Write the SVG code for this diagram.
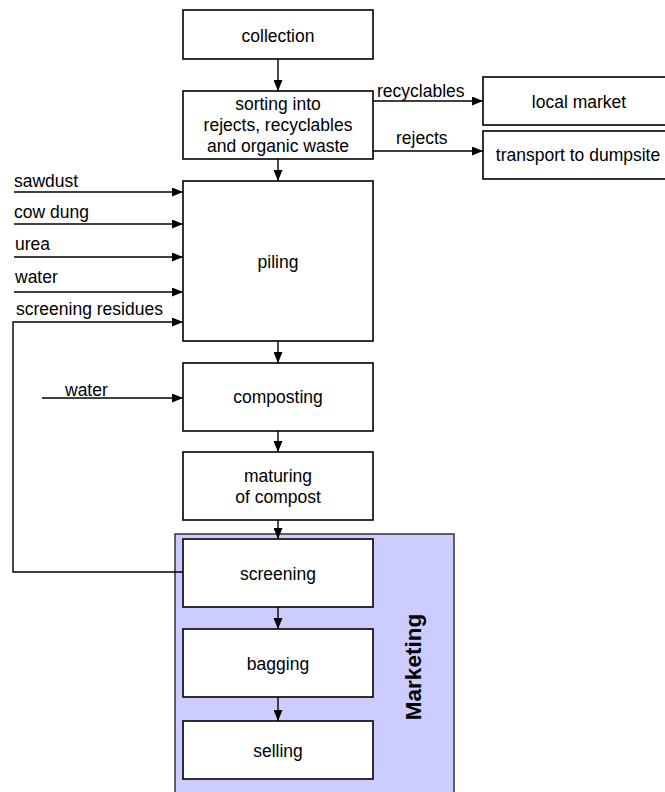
<svg xmlns="http://www.w3.org/2000/svg" width="665" height="792" viewBox="0 0 665 792">
<defs>
<marker id="ah" markerUnits="userSpaceOnUse" markerWidth="11" markerHeight="9" refX="11" refY="4.5" orient="auto">
<path d="M0,0 L11,4.5 L0,9 z" fill="#000"/>
</marker>
<style>
.box{fill:#fff;stroke:#000;stroke-width:1.6}
.t{font-family:"Liberation Sans",Arial,sans-serif;font-size:17.5px;fill:#000}
.c{text-anchor:middle}
.big{font-size:22.5px;font-weight:bold;text-anchor:middle}
.ln{fill:none;stroke:#000;stroke-width:1.4}
.ar{marker-end:url(#ah)}
</style>
</defs>
<rect width="665" height="792" fill="#fff"/>
<g id="marketing">
<rect x="175" y="534" width="279" height="270" fill="#ccccff" stroke="#333" stroke-width="1.5"/>
<text class="t big" x="0" y="0" transform="translate(421,667) rotate(-90)">Marketing</text>
</g>
<g id="collection"><rect class="box" x="183" y="10" width="190" height="49"/><text class="t c" x="278" y="42">collection</text></g>
<g id="sorting"><rect class="box" x="183" y="91" width="190" height="68"/>
<text class="t c" x="278" y="110">sorting into</text>
<text class="t c" x="278" y="131">rejects, recyclables</text>
<text class="t c" x="278" y="152">and organic waste</text></g>
<g id="local-market"><rect class="box" x="483" y="77" width="200" height="48"/><text class="t c" x="579" y="108">local market</text></g>
<g id="transport"><rect class="box" x="483" y="131" width="200" height="48"/><text class="t c" x="578" y="161">transport to dumpsite</text></g>
<g id="piling"><rect class="box" x="183" y="181" width="190" height="160"/><text class="t c" x="278" y="268">piling</text></g>
<g id="composting"><rect class="box" x="183" y="363" width="190" height="68"/><text class="t c" x="278" y="403">composting</text></g>
<g id="maturing"><rect class="box" x="183" y="452" width="190" height="68"/>
<text class="t c" x="278" y="482">maturing</text><text class="t c" x="278" y="503">of compost</text></g>
<g id="screening"><rect class="box" x="183" y="539" width="190" height="68"/><text class="t c" x="278" y="580">screening</text></g>
<g id="bagging"><rect class="box" x="183" y="629" width="190" height="68"/><text class="t c" x="278" y="670">bagging</text></g>
<g id="selling"><rect class="box" x="183" y="721" width="190" height="58"/><text class="t c" x="278" y="757">selling</text></g>
<g id="connectors">
<line class="ln ar" x1="278" y1="59" x2="278" y2="91"/>
<line class="ln ar" x1="278" y1="159" x2="278" y2="181"/>
<line class="ln ar" x1="373" y1="101" x2="483" y2="101"/>
<line class="ln ar" x1="373" y1="151" x2="483" y2="151"/>
<line class="ln ar" x1="14" y1="192" x2="183" y2="192"/>
<line class="ln ar" x1="14" y1="224" x2="183" y2="224"/>
<line class="ln ar" x1="14" y1="257" x2="183" y2="257"/>
<line class="ln ar" x1="14" y1="292" x2="183" y2="292"/>
<polyline class="ln ar" points="183,572 13,572 13,322 183,322"/>
<line class="ln ar" x1="42" y1="398" x2="183" y2="398"/>
<line class="ln ar" x1="278" y1="341" x2="278" y2="363"/>
<line class="ln ar" x1="278" y1="431" x2="278" y2="452"/>
<line class="ln ar" x1="278" y1="520" x2="278" y2="539"/>
<line class="ln ar" x1="278" y1="607" x2="278" y2="629"/>
<line class="ln ar" x1="278" y1="697" x2="278" y2="721"/>
<text class="t" x="377" y="97">recyclables</text>
<text class="t" x="396" y="144">rejects</text>
<text class="t" x="14" y="187">sawdust</text>
<text class="t" x="14" y="218">cow dung</text>
<text class="t" x="15" y="250">urea</text>
<text class="t" x="15" y="283">water</text>
<text class="t" x="16" y="315">screening residues</text>
<text class="t" x="65" y="396">water</text>
</g>
</svg>
